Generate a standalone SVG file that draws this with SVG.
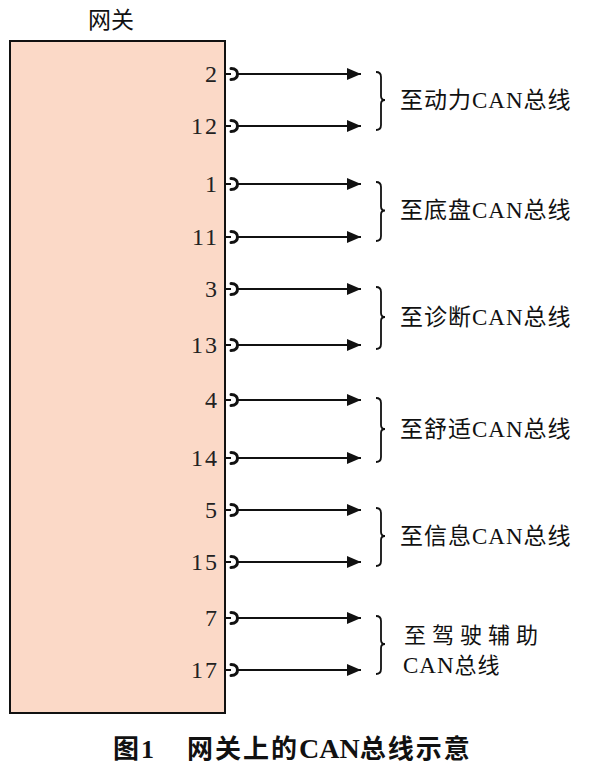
<svg xmlns="http://www.w3.org/2000/svg" width="590" height="776" viewBox="0 0 590 776">
<defs>
<style>
.cjk{font-family:"Noto Sans CJK SC","Noto Sans",sans-serif;fill:#111}
.num{font-family:"Liberation Serif",serif;font-size:24px;fill:#222;text-anchor:end;letter-spacing:2px}
.lbl{font-size:23px;letter-spacing:1px}
.lat{font-family:"Liberation Serif",serif}
.wire{stroke:#111;stroke-width:2;fill:none}
.hook{stroke:#111;stroke-width:3;fill:none;stroke-linecap:round}
.brace{stroke:#111;stroke-width:1.8;fill:none}
.cap{font-weight:bold;font-size:26px;letter-spacing:2px}
</style>
<marker id="arr" viewBox="0 0 14 12" refX="14" refY="6" markerWidth="14" markerHeight="12" markerUnits="userSpaceOnUse" orient="auto">
<path d="M0,0 L14,6 L0,12 Z" fill="#111"/>
</marker>
</defs>
<rect width="590" height="776" fill="#fff"/>

<g id="gateway">
<text class="cjk" x="88" y="28" font-size="23">网关</text>
<rect x="10" y="41" width="215" height="672" fill="#fbd9c7" stroke="#111" stroke-width="2"/>
<text class="num" x="219" y="82">2</text>
<text class="num" x="219" y="134">12</text>
<text class="num" x="219" y="192">1</text>
<text class="num" x="219" y="245">11</text>
<text class="num" x="219" y="297">3</text>
<text class="num" x="219" y="353">13</text>
<text class="num" x="219" y="408">4</text>
<text class="num" x="219" y="466">14</text>
<text class="num" x="219" y="518">5</text>
<text class="num" x="219" y="570">15</text>
<text class="num" x="219" y="626">7</text>
<text class="num" x="219" y="678">17</text>
</g>

<g id="connectors">
<g id="pin-2"><path class="wire" d="M225,74 H231 M237,74 H361" marker-end="url(#arr)"/><path class="hook" d="M231,68.5 C236,68.5 237.5,71.5 237.5,74 C237.5,76.5 236,79.5 231,79.5"/></g>
<g id="pin-12"><path class="wire" d="M225,126 H231 M237,126 H361" marker-end="url(#arr)"/><path class="hook" d="M231,120.5 C236,120.5 237.5,123.5 237.5,126 C237.5,128.5 236,131.5 231,131.5"/></g>
<g id="pin-1"><path class="wire" d="M225,184 H231 M237,184 H361" marker-end="url(#arr)"/><path class="hook" d="M231,178.5 C236,178.5 237.5,181.5 237.5,184 C237.5,186.5 236,189.5 231,189.5"/></g>
<g id="pin-11"><path class="wire" d="M225,237 H231 M237,237 H361" marker-end="url(#arr)"/><path class="hook" d="M231,231.5 C236,231.5 237.5,234.5 237.5,237 C237.5,239.5 236,242.5 231,242.5"/></g>
<g id="pin-3"><path class="wire" d="M225,289 H231 M237,289 H361" marker-end="url(#arr)"/><path class="hook" d="M231,283.5 C236,283.5 237.5,286.5 237.5,289 C237.5,291.5 236,294.5 231,294.5"/></g>
<g id="pin-13"><path class="wire" d="M225,345 H231 M237,345 H361" marker-end="url(#arr)"/><path class="hook" d="M231,339.5 C236,339.5 237.5,342.5 237.5,345 C237.5,347.5 236,350.5 231,350.5"/></g>
<g id="pin-4"><path class="wire" d="M225,400 H231 M237,400 H361" marker-end="url(#arr)"/><path class="hook" d="M231,394.5 C236,394.5 237.5,397.5 237.5,400 C237.5,402.5 236,405.5 231,405.5"/></g>
<g id="pin-14"><path class="wire" d="M225,458 H231 M237,458 H361" marker-end="url(#arr)"/><path class="hook" d="M231,452.5 C236,452.5 237.5,455.5 237.5,458 C237.5,460.5 236,463.5 231,463.5"/></g>
<g id="pin-5"><path class="wire" d="M225,510 H231 M237,510 H361" marker-end="url(#arr)"/><path class="hook" d="M231,504.5 C236,504.5 237.5,507.5 237.5,510 C237.5,512.5 236,515.5 231,515.5"/></g>
<g id="pin-15"><path class="wire" d="M225,562 H231 M237,562 H361" marker-end="url(#arr)"/><path class="hook" d="M231,556.5 C236,556.5 237.5,559.5 237.5,562 C237.5,564.5 236,567.5 231,567.5"/></g>
<g id="pin-7"><path class="wire" d="M225,618 H231 M237,618 H361" marker-end="url(#arr)"/><path class="hook" d="M231,612.5 C236,612.5 237.5,615.5 237.5,618 C237.5,620.5 236,623.5 231,623.5"/></g>
<g id="pin-17"><path class="wire" d="M225,670 H231 M237,670 H361" marker-end="url(#arr)"/><path class="hook" d="M231,664.5 C236,664.5 237.5,667.5 237.5,670 C237.5,672.5 236,675.5 231,675.5"/></g>
</g>

<g id="bus-power">
<path class="brace" d="M376,72 Q381,72 381,77 L381,96 Q381,100 385,100 Q381,100 381,104 L381,125 Q381,130 376,130"/>
<text class="cjk lbl" x="400" y="108">至动力<tspan class="lat">CAN</tspan>总线</text>
</g>
<g id="bus-chassis">
<path class="brace" d="M376,182 Q381,182 381,187 L381,206.5 Q381,210.5 385,210.5 Q381,210.5 381,214.5 L381,236 Q381,241 376,241"/>
<text class="cjk lbl" x="400" y="218">至底盘<tspan class="lat">CAN</tspan>总线</text>
</g>
<g id="bus-diagnostic">
<path class="brace" d="M376,287 Q381,287 381,292 L381,313 Q381,317 385,317 Q381,317 381,321 L381,344 Q381,349 376,349"/>
<text class="cjk lbl" x="400" y="325">至诊断<tspan class="lat">CAN</tspan>总线</text>
</g>
<g id="bus-comfort">
<path class="brace" d="M376,398 Q381,398 381,403 L381,425 Q381,429 385,429 Q381,429 381,433 L381,457 Q381,462 376,462"/>
<text class="cjk lbl" x="400" y="437">至舒适<tspan class="lat">CAN</tspan>总线</text>
</g>
<g id="bus-infotainment">
<path class="brace" d="M376,508 Q381,508 381,513 L381,532 Q381,536 385,536 Q381,536 381,540 L381,561 Q381,566 376,566"/>
<text class="cjk lbl" x="400" y="544">至信息<tspan class="lat">CAN</tspan>总线</text>
</g>
<g id="bus-adas">
<path class="brace" d="M376,616 Q381,616 381,621 L381,640 Q381,644 385,644 Q381,644 381,648 L381,669 Q381,674 376,674"/>
<text class="cjk" x="404" y="643" font-size="22" letter-spacing="6">至驾驶辅助</text>
<text class="cjk" x="403" y="673" font-size="22" letter-spacing="1"><tspan class="lat" font-size="23">CAN</tspan>总线</text>
</g>

<g id="caption">
<text class="cjk cap" x="113" y="758" letter-spacing="1">图<tspan class="lat">1</tspan></text>
<text class="cjk cap" x="187" y="758">网关上的<tspan class="lat" font-size="28" letter-spacing="0">CAN</tspan>总线示意</text>
</g>
</svg>
